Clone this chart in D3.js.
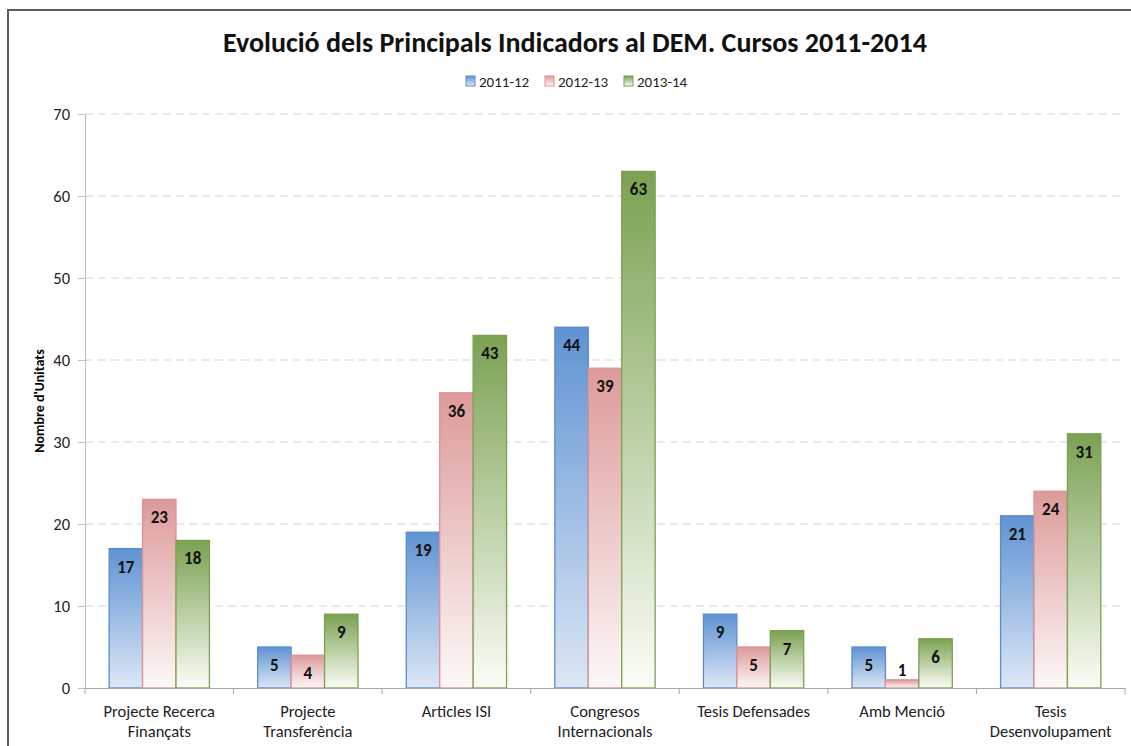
<!DOCTYPE html>
<html>
<head>
<meta charset="utf-8">
<script src="https://cdn.jsdelivr.net/npm/d3@7"></script>
<style>
  body { margin: 0; background: #fff; }
  svg { display: block; font-family: Carlito, Calibri, Lato, "Open Sans", sans-serif; }
</style>
</head>
<body>
<svg id="chart"></svg>
<script>
const categories = [
  ['Projecte Recerca', 'Finançats'],
  ['Projecte', 'Transferència'],
  ['Articles ISI'],
  ['Congresos', 'Internacionals'],
  ['Tesis Defensades'],
  ['Amb Menció'],
  ['Tesis', 'Desenvolupament']
];
const seriesNames = ['2011-12', '2012-13', '2013-14'];
const values2011 = [17, 5, 19, 44, 9, 5, 21];
const values2012 = [23, 4, 36, 39, 5, 1, 24];
const values2013 = [18, 9, 43, 63, 7, 6, 31];
const yTicks = [0, 10, 20, 30, 40, 50, 60, 70];

const width = 1131, height = 746;
const margin = { top: 114, right: 6, bottom: 58, left: 85 };

const svg = d3.select('#chart').attr('width', width).attr('height', height);

// gradients
const colors = [
  { top: '#5f93d3', bottom: '#dde7f5', stroke: '#5a8ccb' },
  { top: '#dd9a9a', bottom: '#fdf8f8', stroke: '#dc9395' },
  { top: '#7ba152', bottom: '#fbfdf7', stroke: '#7ba152' }
];
const defs = svg.append('defs');
colors.forEach((c, i) => {
  const g = defs.append('linearGradient').attr('id', 'grad' + i)
    .attr('x1', 0).attr('y1', 0).attr('x2', 0).attr('y2', 1);
  g.append('stop').attr('offset', '0%').attr('stop-color', c.top);
  g.append('stop').attr('offset', '100%').attr('stop-color', c.bottom);
});

// outer frame
svg.append('path')
  .attr('d', `M8,${height + 5} L8,10 L${width + 5},10`)
  .attr('fill', 'none').attr('stroke', '#5a5a5a').attr('stroke-width', 2);

const x0 = d3.scaleBand().domain(d3.range(categories.length))
  .range([margin.left, width - margin.right]).paddingInner(0).paddingOuter(0);
const bandInner = x0.bandwidth() * 0.675;
const x1 = d3.scaleBand().domain(d3.range(seriesNames.length))
  .range([0, bandInner]);
const y = d3.scaleLinear().domain([0, 70]).range([height - margin.bottom, margin.top]);

// grid
svg.append('g').selectAll('line').data(yTicks.slice(1)).join('line')
  .attr('x1', margin.left).attr('x2', width - margin.right)
  .attr('y1', d => y(d)).attr('y2', d => y(d))
  .attr('stroke', '#d4d4d4').attr('stroke-width', 1.2).attr('stroke-dasharray', '8,5');

// y axis
const yAxis = svg.append('g').attr('transform', `translate(${margin.left},0)`)
  .call(d3.axisLeft(y).tickValues(yTicks).tickSize(7).tickPadding(8).tickSizeOuter(0));
yAxis.select('.domain').attr('stroke', '#bfbfbf');
yAxis.selectAll('.tick line').attr('stroke', '#bfbfbf');
yAxis.selectAll('.tick text').attr('font-size', 16.5).attr('fill', '#222')
  .style('font-family', 'Carlito, Calibri, Lato, sans-serif');

svg.append('text')
  .attr('transform', `translate(44,${(margin.top + height - margin.bottom) / 2}) rotate(-90)`)
  .attr('text-anchor', 'middle').attr('font-size', 14).attr('font-weight', 'bold')
  .text("Nombre d'Unitats");

// bars
const series = [values2011, values2012, values2013];
const groups = svg.append('g').selectAll('g').data(categories.map((c, i) => i)).join('g')
  .attr('transform', i => `translate(${x0(i) + (x0.bandwidth() - bandInner) / 2},0)`);

series.forEach((vals, s) => {
  groups.append('rect')
    .attr('x', x1(s))
    .attr('y', i => y(vals[i]))
    .attr('width', x1.bandwidth())
    .attr('height', i => y(0) - y(vals[i]))
    .attr('fill', `url(#grad${s})`)
    .attr('stroke', colors[s].stroke).attr('stroke-width', 1.3);
  groups.append('text')
    .attr('x', x1(s) + x1.bandwidth() / 2)
    .attr('y', i => vals[i] <= 1 ? y(vals[i]) - 4 : y(vals[i]) + 24)
    .attr('text-anchor', 'middle').attr('font-size', 17).attr('font-weight', 'bold')
    .attr('fill', '#111')
    .text(i => vals[i]);
});

// x axis
const xAxis = svg.append('g').attr('transform', `translate(0,${y(0)})`)
  .call(d3.axisBottom(x0).tickValues([]).tickSizeOuter(0));
xAxis.select('.domain').attr('stroke', '#a6a6a6');
svg.append('g').selectAll('line').data(d3.range(categories.length + 1)).join('line')
  .attr('x1', i => margin.left + i * x0.bandwidth()).attr('x2', i => margin.left + i * x0.bandwidth())
  .attr('y1', y(0)).attr('y2', y(0) + 6).attr('stroke', '#a6a6a6');

const xl = svg.append('g').selectAll('text').data(categories).join('text')
  .attr('x', (d, i) => x0(i) + x0.bandwidth() / 2)
  .attr('y', y(0) + 29)
  .attr('text-anchor', 'middle').attr('font-size', 16.5).attr('fill', '#222');
xl.selectAll('tspan').data(d => d).join('tspan')
  .attr('x', function () { return this.parentNode.getAttribute('x'); })
  .attr('dy', (d, i) => i === 0 ? 0 : 20)
  .text(d => d);

// title
svg.append('text').attr('x', 575).attr('y', 52).attr('text-anchor', 'middle')
  .attr('font-size', 28).attr('font-weight', 'bold').attr('fill', '#111')
  .text('Evolució dels Principals Indicadors al DEM. Cursos 2011-2014');

// legend
const legend = svg.append('g').attr('transform', 'translate(466,76)');
const legendX = [0, 79, 158];
seriesNames.forEach((n, i) => {
  const g = legend.append('g').attr('transform', `translate(${legendX[i]},0)`);
  g.append('rect').attr('x', 0).attr('y', 0).attr('width', 9).attr('height', 10)
    .attr('fill', `url(#grad${i})`).attr('stroke', colors[i].stroke);
  g.append('text').attr('x', 13).attr('y', 10.5).attr('font-size', 15).attr('fill', '#222').text(n);
});
</script>
</body>
</html>
